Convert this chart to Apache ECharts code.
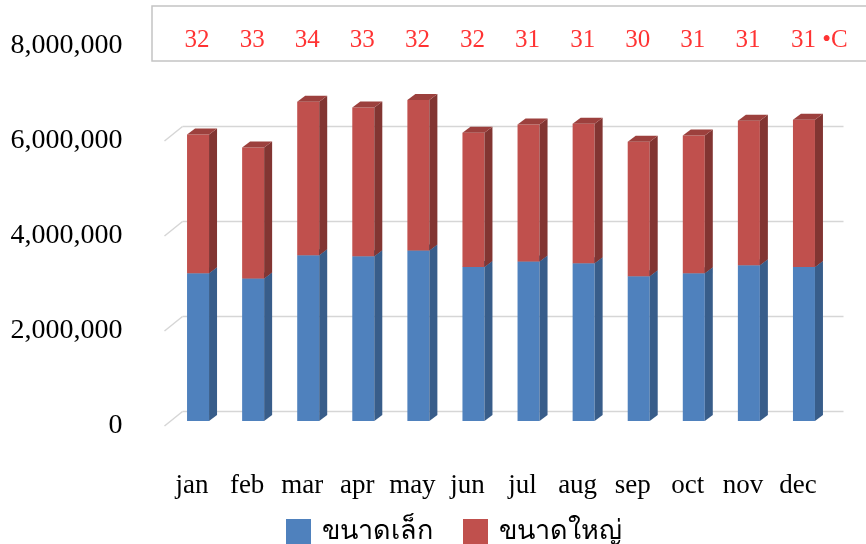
<!DOCTYPE html>
<html>
<head>
<meta charset="utf-8">
<script src="https://cdn.jsdelivr.net/npm/echarts@6/dist/echarts.min.js"></script>
<style>
html, body { margin: 0; padding: 0; background: #fff; }
#chart { width: 866px; height: 544px; }
</style>
</head>
<body>
<div id="chart"></div>
<script>
// ข้อมูล
const months = ['jan', 'feb', 'mar', 'apr', 'may', 'jun', 'jul', 'aug', 'sep', 'oct', 'nov', 'dec']
const smallSize = [3110000, 3000000, 3490000, 3470000, 3590000, 3240000, 3360000, 3320000, 3050000, 3110000, 3280000, 3240000]
const largeSize = [2920000, 2760000, 3230000, 3130000, 3170000, 2830000, 2880000, 2940000, 2830000, 2900000, 3040000, 3100000]
const temps = [32, 33, 34, 33, 32, 32, 31, 31, 30, 31, 31, 31]
const yTicks = [0, 2000000, 4000000, 6000000]
const seriesNames = ['ขนาดเล็ก', 'ขนาดใหญ่']

const FONT = "'Liberation Serif', 'Times New Roman', serif"
// 3D look: bars sit a little behind the front plane, walls further back
const BAR_DX = -5, BAR_DY = -5, BAR_W = 22, SIDE_DX = 8, SIDE_DY = -6
const WALL_DX = 18, WALL_DY = -14.5

function bar3d(front, side, top) {
  return function (params, api) {
    const i = api.value(0)
    const lo = api.coord([i, api.value(1)])
    const hi = api.coord([i, api.value(2)])
    const x = lo[0] + BAR_DX
    const yb = lo[1] + BAR_DY
    const yt = hi[1] + BAR_DY
    return {
      type: 'group',
      children: [
        { type: 'rect', shape: { x: x, y: yt, width: BAR_W, height: yb - yt }, style: { fill: front } },
        {
          type: 'polygon',
          shape: { points: [[x + BAR_W, yb], [x + BAR_W + SIDE_DX, yb + SIDE_DY], [x + BAR_W + SIDE_DX, yt + SIDE_DY], [x + BAR_W, yt]] },
          style: { fill: side }
        },
        {
          type: 'polygon',
          shape: { points: [[x, yt], [x + SIDE_DX, yt + SIDE_DY], [x + BAR_W + SIDE_DX, yt + SIDE_DY], [x + BAR_W, yt]] },
          style: { fill: top }
        }
      ]
    }
  }
}

function wallLines(params, api) {
  const cs = params.coordSys
  const y = api.coord([0, api.value(1)])[1]
  const st = { stroke: '#d6d6d6', lineWidth: 1.5 }
  return {
    type: 'group',
    children: [
      { type: 'line', shape: { x1: cs.x, y1: y, x2: cs.x + WALL_DX, y2: y + WALL_DY }, style: st },
      { type: 'line', shape: { x1: cs.x + WALL_DX, y1: y + WALL_DY, x2: cs.x + cs.width + WALL_DX, y2: y + WALL_DY }, style: st }
    ]
  }
}

const smallData = smallSize.map((v, i) => [i, 0, v])
const largeData = largeSize.map((v, i) => [i, smallSize[i], smallSize[i] + v])

const myChart = echarts.init(document.getElementById('chart'))
const option = {
  backgroundColor: '#fff',
  animation: false,
  textStyle: { fontFamily: FONT },
  graphic: [
    {
      type: 'rect',
      z: 0,
      shape: { x: 152, y: 6, width: 740, height: 55 },
      style: { fill: '#fff', stroke: '#c4c4c4', lineWidth: 1.5 }
    }
  ],
  legend: {
    data: seriesNames,
    left: 281,
    top: 513,
    icon: 'rect',
    itemWidth: 25,
    itemHeight: 25,
    itemGap: 30,
    textStyle: { fontFamily: FONT, fontSize: 27, color: '#000', padding: [0, 0, 0, 6] }
  },
  grid: [
    { left: 164.5, right: 40.5, top: 46, bottom: 118 },
    { left: 164.5, right: 40.5, top: 6, height: 55 }
  ],
  xAxis: [
    {
      type: 'category',
      data: months,
      axisLine: { show: false },
      axisTick: { show: false },
      axisLabel: { interval: 0, margin: 46, fontSize: 27, color: '#000', fontFamily: FONT }
    },
    { type: 'category', gridIndex: 1, data: months, show: false }
  ],
  yAxis: [
    {
      type: 'value',
      min: 0,
      max: 8000000,
      interval: 2000000,
      axisLine: { show: false },
      axisTick: { show: false },
      splitLine: { show: false },
      axisLabel: {
        margin: 42,
        fontSize: 28,
        color: '#000',
        fontFamily: FONT,
        formatter: v => v.toLocaleString('en-US')
      }
    },
    { type: 'value', gridIndex: 1, min: -1, max: 1, show: false }
  ],
  series: [
    {
      name: 'wall',
      type: 'custom',
      silent: true,
      z: 1,
      renderItem: wallLines,
      encode: { x: 0, y: 1 },
      data: yTicks.map(v => [0, v])
    },
    {
      name: seriesNames[0],
      type: 'custom',
      z: 2,
      itemStyle: { color: '#4f81bd' },
      renderItem: bar3d('#4f81bd', '#385d8a', '#3d6694'),
      encode: { x: 0, y: [1, 2] },
      data: smallData
    },
    {
      name: seriesNames[1],
      type: 'custom',
      z: 3,
      itemStyle: { color: '#c0504d' },
      renderItem: bar3d('#c0504d', '#823532', '#9c403d'),
      encode: { x: 0, y: [1, 2] },
      data: largeData
    },
    {
      name: 'temp',
      type: 'scatter',
      xAxisIndex: 1,
      yAxisIndex: 1,
      symbolSize: 0,
      silent: true,
      z: 5,
      label: {
        show: true,
        position: 'inside',
        offset: [5, 7],
        color: '#ff0000',
        fontSize: 25,
        fontFamily: FONT,
        formatter: p => String(temps[p.dataIndex])
      },
      data: temps.map((t, i) => {
        if (i === temps.length - 1) {
          return {
            value: [i, 0],
            label: { align: 'left', offset: [-7, 7], formatter: t + ' •C' }
          }
        }
        return [i, 0]
      })
    }
  ]
}
myChart.setOption(option)
</script>
</body>
</html>
